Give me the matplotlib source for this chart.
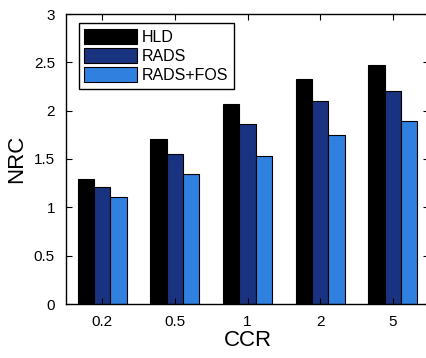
import numpy as np
import matplotlib.pyplot as plt

plt.rcParams['font.family'] = ['Liberation Sans', 'DejaVu Sans']

# data
ccr = ['0.2', '0.5', '1', '2', '5']
hld = [1.29, 1.71, 2.07, 2.33, 2.47]
rads = [1.21, 1.55, 1.86, 2.10, 2.20]
rads_fos = [1.11, 1.34, 1.53, 1.75, 1.89]

series = [('HLD', hld, '#000000'),
          ('RADS', rads, '#1a3380'),
          ('RADS+FOS', rads_fos, '#3080e0')]

fig = plt.figure(figsize=(4.26, 3.58), dpi=100)
ax = fig.add_axes([66 / 426, 54 / 358, 363 / 426, 290 / 358])

x = np.arange(1, len(ccr) + 1)
w = 0.225
for i, (name, vals, col) in enumerate(series):
    ax.bar(x + (i - 1) * w, vals, w, color=col, edgecolor='black',
           linewidth=0.8, label=name)

ax.set_xlim(0.5, 5.5)
ax.set_ylim(0, 3)
ax.set_xticks(x)
ax.set_xticklabels(ccr)
ax.set_yticks(np.arange(0, 3.01, 0.5))
ax.set_yticklabels(['0', '0.5', '1', '1.5', '2', '2.5', '3'])
ax.tick_params(direction='in', top=True, right=True, labelsize=11, length=4, pad=8)
for s in ax.spines.values():
    s.set_linewidth(1.0)

ax.set_xlabel('CCR', fontsize=16, labelpad=1)
ax.set_ylabel('NRC', fontsize=16, labelpad=5)

leg = ax.legend(loc='upper left', bbox_to_anchor=(0.035, 0.969), fontsize=11.5,
                fancybox=False, edgecolor='black', framealpha=1,
                handlelength=3.3, handleheight=1.1, handletextpad=0.3,
                labelspacing=0.2, borderpad=0.35, borderaxespad=0)
leg.get_frame().set_linewidth(1.0)

fig.savefig('out.png', dpi=100)
